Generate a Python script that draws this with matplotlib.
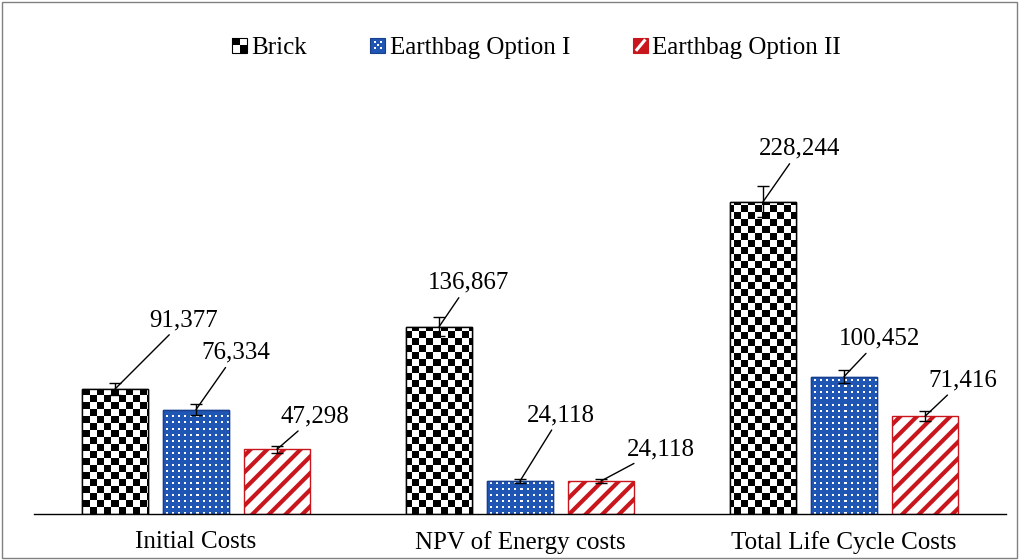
import numpy as np
import matplotlib
matplotlib.use("Agg")
import matplotlib.pyplot as plt
from matplotlib.patches import Rectangle, Patch
from matplotlib.legend_handler import HandlerBase

plt.rcParams['font.family'] = ['Liberation Serif', 'DejaVu Serif']
plt.rcParams['hatch.linewidth'] = 3.0

categories = ["Initial Costs", "NPV of Energy costs", "Total Life Cycle Costs"]
series_names = ["Brick", "Earthbag Option I", "Earthbag Option II"]
brick = [91377, 136867, 228244]
earthbag1 = [76334, 24118, 100452]
earthbag2 = [47298, 24118, 71416]
err_frac = 0.05

# label offsets (pixels) from bar top
offsets = [
    [(69, 69), (30, 44), (37, 53)],
    [(40, 57), (41, 66), (36, 38)],
    [(38, 33), (60, 32), (38, 36)],
]

W, H = 1019, 560
fig = plt.figure(figsize=(W / 100, H / 100), dpi=100)
ax_l, ax_b, ax_r, ax_t = 34, 46, 1006, 470
ax = fig.add_axes([ax_l / W, ax_b / H, (ax_r - ax_l) / W, (ax_t - ax_b) / H])
ymax = 310000
ax.set_xlim(-0.5, 2.5)
ax.set_ylim(0, ymax)

x = np.arange(len(categories))
bw = 0.204
off = 0.25

blue = '#1f56b4'
blue_rgb = np.array([0x1f, 0x56, 0xb4]) / 255.0
red = '#c8161c'
FS = 18

pw, ph = ax_r - ax_l, ax_t - ax_b
rr, cc = np.indices((ph, pw))

# checkerboard texture (7 px cells)
cell = 7
checker = (((rr // cell) + (cc // cell)) % 2).astype(float)

# dotted blue texture
dots = np.ones((ph, pw, 3)) * blue_rgb
mask = ((rr % 6) < 2) & ((cc % 6) < 2)
dots[mask] = [1.0, 1.0, 1.0]

b0 = ax.bar(x - off, brick, bw, facecolor='white', edgecolor='black', lw=1.0, zorder=3)
for p in b0.patches:
    im = ax.imshow(checker, extent=(-0.5, 2.5, 0, ymax), aspect='auto',
                   interpolation='nearest', cmap='gray', vmin=0, vmax=1,
                   zorder=3.5, origin='lower')
    im.set_clip_path(p)
ax.bar(x - off, brick, bw, facecolor='none', edgecolor='black', lw=1.0, zorder=4)

b1 = ax.bar(x, earthbag1, bw, facecolor=blue, edgecolor=blue, lw=1.0, zorder=3)
for p in b1.patches:
    im = ax.imshow(dots, extent=(-0.5, 2.5, 0, ymax), aspect='auto',
                   interpolation='nearest', zorder=3.5, origin='lower')
    im.set_clip_path(p)
ax.bar(x, earthbag1, bw, facecolor='none', edgecolor='#1a3f8a', lw=1.0, zorder=4)

ax.bar(x + off, earthbag2, bw, facecolor='white', edgecolor=red, hatch='//', lw=0, zorder=3)
ax.bar(x + off, earthbag2, bw, facecolor='none', edgecolor=red, lw=1.0, zorder=4)

series = [brick, earthbag1, earthbag2]
for k, vals in enumerate(series):
    xs = x + (k - 1) * off
    ax.errorbar(xs, vals, yerr=[v * err_frac for v in vals], fmt='none',
                ecolor='black', elinewidth=1.0, capsize=4, capthick=1.0, zorder=5)
    for i, v in enumerate(vals):
        dx, dy = offsets[k][i]
        ax.annotate(f"{v:,}", xy=(xs[i], v), xytext=(dx, dy), textcoords='offset pixels',
                    ha='center', va='center', fontsize=FS, zorder=6,
                    arrowprops=dict(arrowstyle='-', color='black', lw=1.0,
                                    shrinkA=1, shrinkB=0))

ax.set_xticks(x)
ax.set_xticklabels(categories, fontsize=FS)
ax.tick_params(axis='x', length=0, pad=12)
ax.set_yticks([])
for s in ['top', 'right', 'left']:
    ax.spines[s].set_visible(False)
ax.spines['bottom'].set_color('black')
ax.spines['bottom'].set_linewidth(1.0)
ax.spines['bottom'].set_zorder(5)


class CheckerHandler(HandlerBase):
    def create_artists(self, legend, orig_handle, xdescent, ydescent, width, height, fontsize, trans):
        s = height
        x0 = -xdescent + (width - s) / 2
        y0 = -ydescent
        return [
            Rectangle((x0, y0), s, s, fc='white', ec='black', lw=0.8, transform=trans),
            Rectangle((x0, y0 + s / 2), s / 2, s / 2, fc='black', ec='none', transform=trans),
            Rectangle((x0 + s / 2, y0), s / 2, s / 2, fc='black', ec='none', transform=trans),
        ]


class DotHandler(HandlerBase):
    def create_artists(self, legend, orig_handle, xdescent, ydescent, width, height, fontsize, trans):
        s = height
        x0 = -xdescent + (width - s) / 2
        y0 = -ydescent
        arts = [Rectangle((x0, y0), s, s, fc=blue, ec='#1a3f8a', lw=0.8, transform=trans)]
        d = s * 0.14
        for fx, fy in [(0.3, 0.3), (0.7, 0.3), (0.3, 0.7), (0.7, 0.7), (0.5, 0.5)]:
            arts.append(Rectangle((x0 + fx * s - d / 2, y0 + fy * s - d / 2), d, d,
                                  fc='white', ec='none', transform=trans))
        return arts


class StripeHandler(HandlerBase):
    def create_artists(self, legend, orig_handle, xdescent, ydescent, width, height, fontsize, trans):
        s = height
        x0 = -xdescent + (width - s) / 2
        y0 = -ydescent
        bg = Rectangle((x0, y0), s, s, fc=red, ec=red, lw=0.8, transform=trans)
        line = plt.Line2D([x0 + 0.25 * s, x0 + 0.75 * s], [y0 + 0.2 * s, y0 + 0.8 * s],
                          color='white', lw=2.2, transform=trans)
        return [bg, line]


h_brick = Patch(facecolor='white', edgecolor='black')
h_e1 = Patch(facecolor=blue)
h_e2 = Patch(facecolor=red)
leg = fig.legend([h_brick, h_e1, h_e2], series_names, loc='center',
                 bbox_to_anchor=(537 / W, 1 - 48 / H), ncol=3, frameon=False,
                 fontsize=FS, handlelength=0.55, handleheight=0.55, handletextpad=0.2,
                 columnspacing=2.55,
                 handler_map={h_brick: CheckerHandler(), h_e1: DotHandler(),
                              h_e2: StripeHandler()})

fig.patches.append(Rectangle((0.002, 0.003), 0.996, 0.994, transform=fig.transFigure,
                             fill=False, edgecolor='#808080', lw=1.0))

fig.savefig('out.png', dpi=100)
